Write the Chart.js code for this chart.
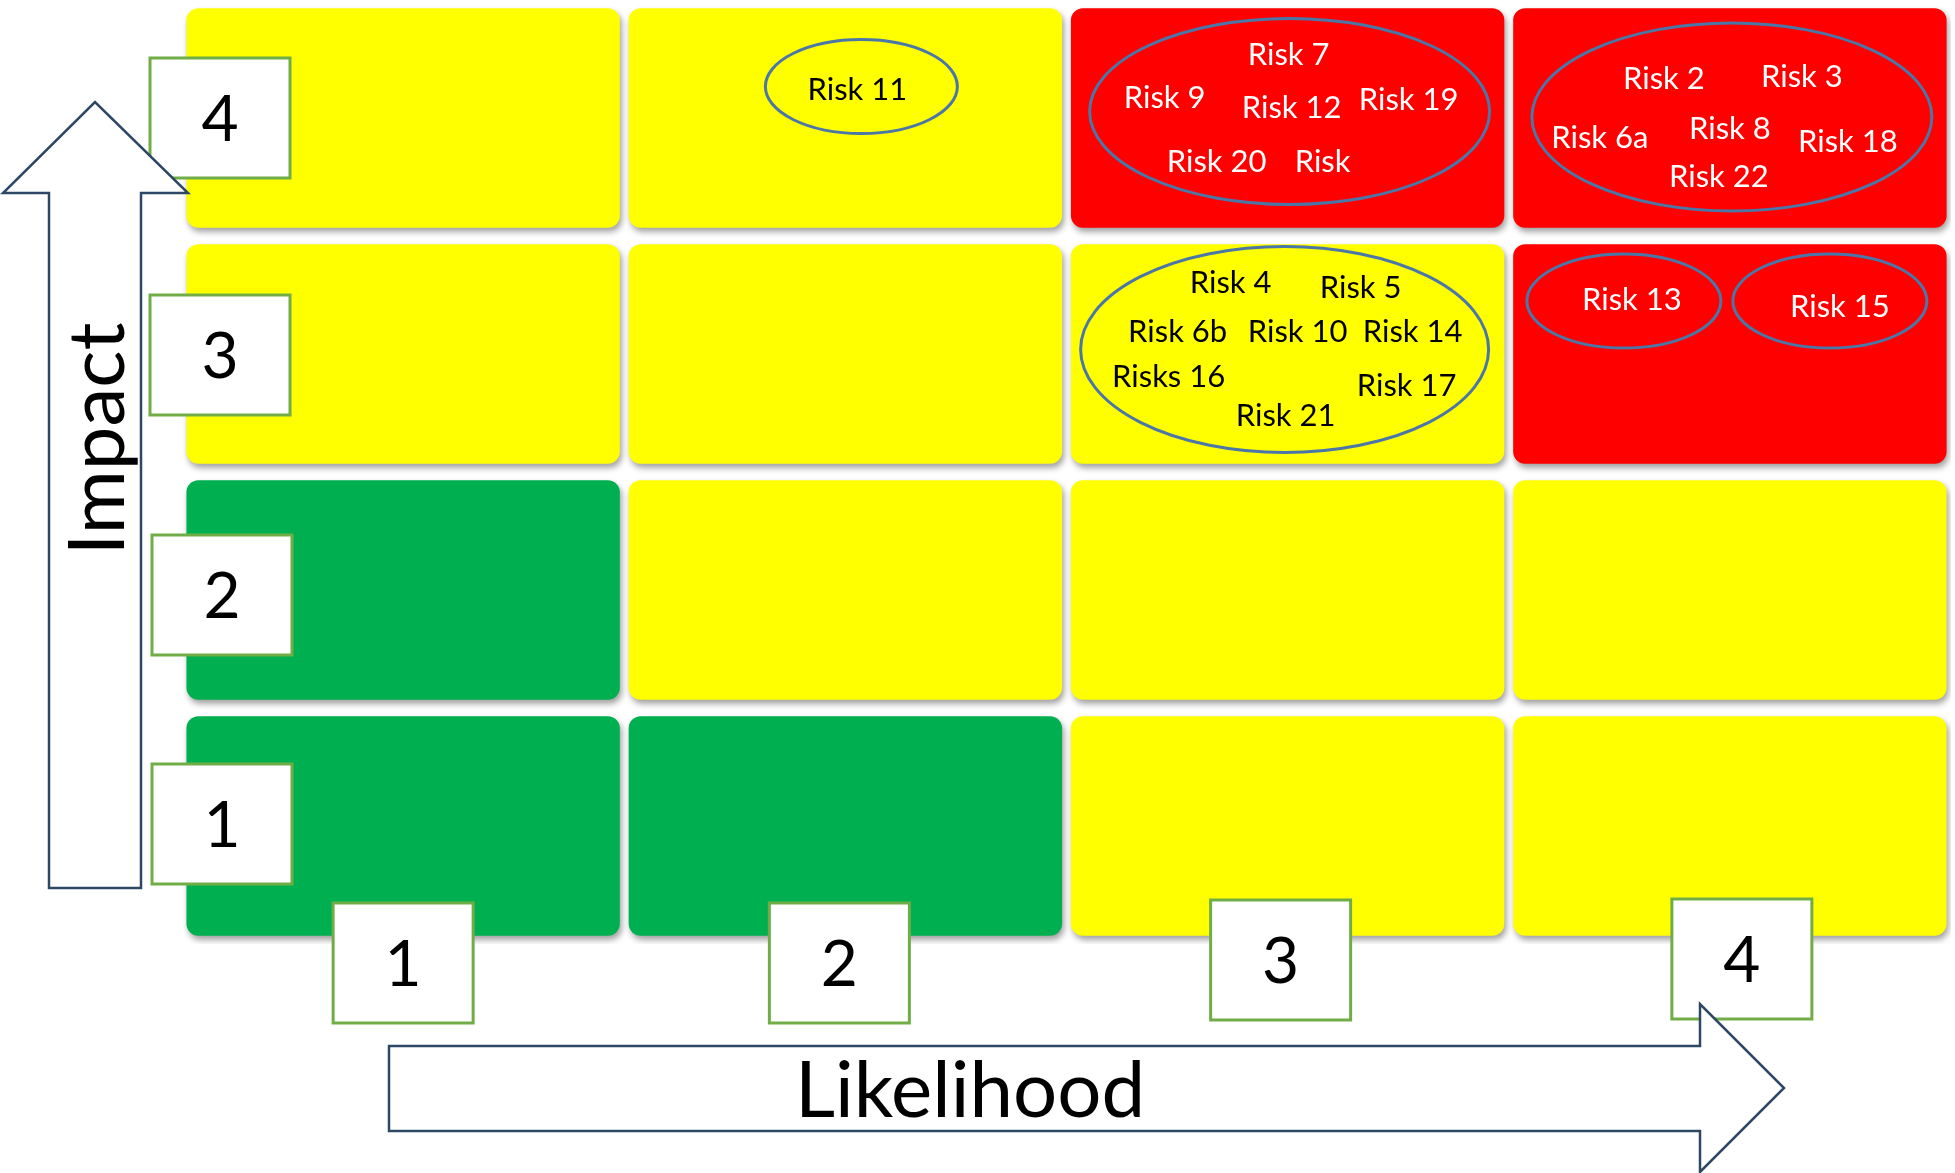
<!DOCTYPE html>
<html lang="en">
<head>
  <meta charset="UTF-8" />
  <title>Risk Matrix</title>
  <script src="https://cdn.jsdelivr.net/npm/chart.js"></script>
  <style>
    html, body { margin: 0; padding: 0; background: #ffffff; }
    #wrap { width: 1955px; height: 1173px; }
  </style>
</head>
<body>
  <div id="wrap"><canvas id="riskChart" width="1955" height="1173"></canvas></div>

  <script>
    // categories
    const likelihoodLabels = ['1', '2', '3', '4'];
    const impactLabels = ['1', '2', '3', '4'];

    // rating of each cell, one row per impact level (1 at the bottom), one entry per likelihood
    const ratingImpact1 = ['low', 'low', 'medium', 'medium'];
    const ratingImpact2 = ['low', 'medium', 'medium', 'medium'];
    const ratingImpact3 = ['medium', 'medium', 'medium', 'high'];
    const ratingImpact4 = ['medium', 'medium', 'high', 'high'];
    const ratingRows = [ratingImpact1, ratingImpact2, ratingImpact3, ratingImpact4];

    // risk groups (each one is circled in its cell)
    const groupLikelihood = ['2', '3', '4', '3', '4', '4'];
    const groupImpact = [4, 4, 4, 3, 3, 3];
    const groupRisks = [
      ['Risk 11'],
      ['Risk 7', 'Risk 9', 'Risk 12', 'Risk 19', 'Risk 20', 'Risk'],
      ['Risk 2', 'Risk 3', 'Risk 6a', 'Risk 8', 'Risk 18', 'Risk 22'],
      ['Risk 4', 'Risk 5', 'Risk 6b', 'Risk 10', 'Risk 14', 'Risks 16', 'Risk 17', 'Risk 21'],
      ['Risk 13'],
      ['Risk 15']
    ];

    const xTitle = 'Likelihood';
    const yTitle = 'Impact';

    // ---- layout and style (pixels, relative to the cell centre) ----
    const ratingColors = { low: '#00B050', medium: '#FFFF00', high: '#FF0000' };
    const cellGap = 0.035;
    // [dx, dy, rx, ry]
    const ellipseLayout = [
      [16, -31.5, 96, 47],
      [2, -6.5, 200, 93],
      [2, -1, 200, 94],
      [-3, -4.5, 204, 103],
      [-106, -53, 97, 47],
      [100, -53, 97, 47]
    ];
    // [dx, baseline dy] for every label of the group
    const labelLayout = [
      [[12, -18]],
      [[1, -53], [-123, -10], [4, 0], [121, -8], [-71, 54], [35, 54]],
      [[-66, -29], [72, -31], [-130, 30], [0, 21], [118, 34], [-11, 69]],
      [[-57, -61], [73, -56], [-110, -12], [10, -12], [125, -12], [-119, 33], [119, 42], [-2, 72]],
      [[-98, -44]],
      [[110, -37]]
    ];
    const xBoxNudge = [0, -6, -7, 12];
    const xBoxY = [963, 963, 960, 959];
    const yBoxNudge = [-2, 5, 1, 0];
    const yBoxX = [222, 222, 220, 220];
    const FONT = 'Lato, "Open Sans", sans-serif';

    function cellCentre(chart, likelihood, impact) {
      return {
        x: chart.scales.x.getPixelForValue(likelihoodLabels.indexOf(likelihood)),
        y: chart.scales.y.getPixelForValue(impact)
      };
    }

    const cellShadow = {
      id: 'cellShadow',
      beforeDatasetsDraw(chart) {
        const ctx = chart.ctx;
        ctx.save();
        ctx.shadowColor = 'rgba(0, 0, 0, 0.38)';
        ctx.shadowBlur = 6;
        ctx.shadowOffsetX = 2;
        ctx.shadowOffsetY = 4;
      },
      afterDatasetsDraw(chart) {
        chart.ctx.restore();
      }
    };

    const riskLabels = {
      id: 'riskLabels',
      afterDatasetsDraw(chart) {
        const ctx = chart.ctx;
        ctx.save();
        groupRisks.forEach((risks, g) => {
          const c = cellCentre(chart, groupLikelihood[g], groupImpact[g]);
          const rating = ratingRows[groupImpact[g] - 1][likelihoodLabels.indexOf(groupLikelihood[g])];
          const e = ellipseLayout[g];
          ctx.beginPath();
          ctx.ellipse(c.x + e[0], c.y + e[1], e[2], e[3], 0, 0, Math.PI * 2);
          ctx.lineWidth = 3;
          ctx.strokeStyle = '#4A76A8';
          ctx.stroke();

          ctx.fillStyle = rating === 'high' ? '#ffffff' : '#000000';
          ctx.font = '31px ' + FONT;
          ctx.textAlign = 'center';
          ctx.textBaseline = 'alphabetic';
          risks.forEach((name, i) => {
            const p = labelLayout[g][i];
            ctx.fillText(name, c.x + p[0], c.y + p[1]);
          });
        });
        ctx.restore();
      }
    };

    function numberBox(ctx, cx, cy, text) {
      const w = 140, h = 120;
      ctx.fillStyle = '#ffffff';
      ctx.fillRect(cx - w / 2, cy - h / 2, w, h);
      ctx.lineWidth = 3;
      ctx.strokeStyle = '#70AD47';
      ctx.strokeRect(cx - w / 2, cy - h / 2, w, h);
      ctx.fillStyle = '#000000';
      ctx.font = '64px ' + FONT;
      ctx.textAlign = 'center';
      ctx.textBaseline = 'alphabetic';
      ctx.fillText(text, cx, cy + 23);
    }

    function arrowPath(ctx, pts) {
      ctx.beginPath();
      pts.forEach((p, i) => (i ? ctx.lineTo(p[0], p[1]) : ctx.moveTo(p[0], p[1])));
      ctx.closePath();
      ctx.fillStyle = '#ffffff';
      ctx.fill();
      ctx.lineWidth = 2.5;
      ctx.strokeStyle = '#2C4866';
      ctx.lineJoin = 'miter';
      ctx.stroke();
    }

    const axisDecor = {
      id: 'axisDecor',
      afterDraw(chart) {
        const ctx = chart.ctx;
        const xs = chart.scales.x, ys = chart.scales.y;
        ctx.save();
        // tick boxes
        impactLabels.forEach((lab, i) => {
          numberBox(ctx, yBoxX[i], ys.getPixelForValue(Number(lab)) + yBoxNudge[i], lab);
        });
        likelihoodLabels.forEach((lab, i) => {
          numberBox(ctx, xs.getPixelForValue(i) + xBoxNudge[i], xBoxY[i], lab);
        });

        // block arrows
        arrowPath(ctx, [[49, 888], [49, 193], [3, 193], [95, 102], [188, 193], [141, 193], [141, 888]]);
        arrowPath(ctx, [[389, 1046], [1700, 1046], [1700, 1004], [1784, 1088], [1700, 1172], [1700, 1131], [389, 1131]]);

        // axis titles
        ctx.fillStyle = '#000000';
        ctx.font = '78px ' + FONT;
        ctx.textAlign = 'center';
        ctx.textBaseline = 'alphabetic';
        ctx.fillText(xTitle, 970, 1117);
        ctx.translate(124, 439);
        ctx.rotate(-Math.PI / 2);
        ctx.fillText(yTitle, 0, 0);
        ctx.restore();
      }
    };

    const datasets = impactLabels.map((lab, r) => {
      const level = Number(lab);
      return {
        label: 'Impact ' + lab,
        data: likelihoodLabels.map(() => [level - 0.5 + cellGap, level + 0.5 - cellGap]),
        backgroundColor: ratingRows[r].map(k => ratingColors[k]),
        borderRadius: 12,
        borderSkipped: false,
        borderWidth: 0,
        barPercentage: 0.98,
        categoryPercentage: 1,
        grouped: false
      };
    });

    new Chart(document.getElementById('riskChart').getContext('2d'), {
      type: 'bar',
      data: { labels: likelihoodLabels, datasets: datasets },
      options: {
        responsive: false,
        animation: false,
        layout: { padding: { left: 182, right: 4, top: 0, bottom: 229 } },
        scales: {
          x: { type: 'category', display: false },
          y: { type: 'linear', min: 0.5, max: 4.5, display: false }
        },
        plugins: {
          legend: { display: false },
          tooltip: { enabled: false }
        }
      },
      plugins: [cellShadow, riskLabels, axisDecor]
    });
  </script>
</body>
</html>
